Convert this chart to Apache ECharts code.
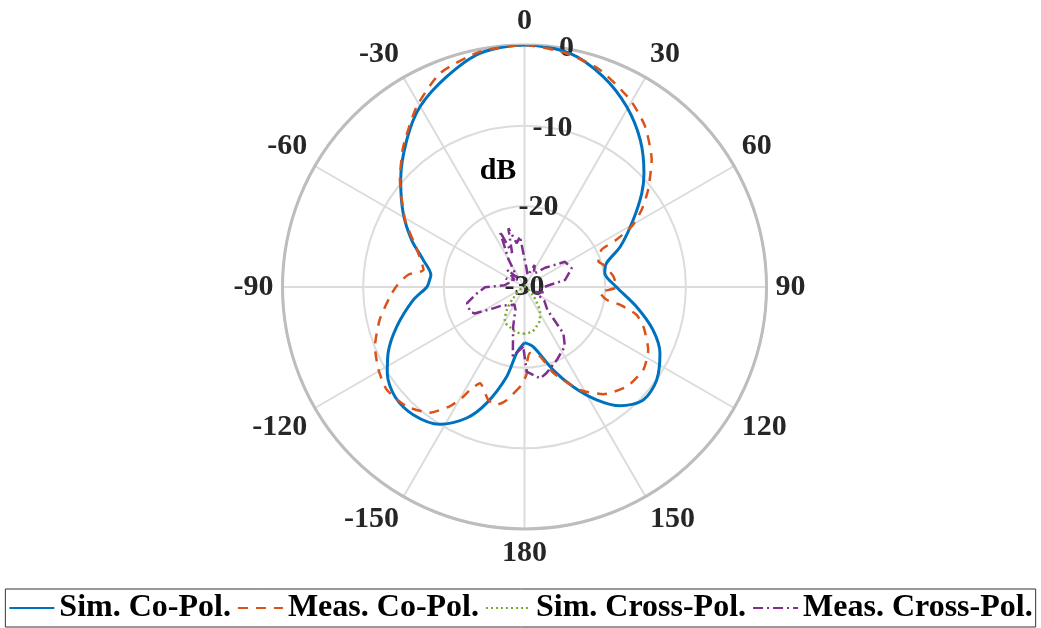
<!DOCTYPE html>
<html>
<head>
<meta charset="utf-8">
<script src="https://cdn.jsdelivr.net/npm/echarts@6/dist/echarts.min.js"></script>
<style>
  html, body { margin: 0; padding: 0; background: #fff; }
  #chart { width: 1041px; height: 628px; }
</style>
</head>
<body>
<div id="chart"></div>
<script>
// angle in degrees (0 = broadside, clockwise), gain in dB
var simCoAngle = [-180, -173.3, -168.8, -162, -156.2, -148.3, -138.9, -130.3, -122.2, -115.9, -107.3, -96.7, -90, -85.8, -82.7, -75, -67.4, -58.7, -49.2, -38.7, -30.1, -20.3, -10.8, 0, 11, 20.5, 29.5, 38.2, 46.4, 51.4, 58.4, 67.1, 73.7, 80.1, 90, 100, 108.5, 116.1, 125.1, 133.6, 141.2, 147.4, 153.9, 160.9, 171.6, 180];
var simCoDb = [-23.1, -21.8, -18.7, -14.9, -12.25, -10.0, -9.0, -8.96, -9.9, -11.2, -13.4, -16.1, -17.9, -18.2, -18.3, -17.0, -14.85, -12.4, -9.72, -6.65, -4.17, -2.2, -0.51, 0, -0.5, -2.16, -4.3, -6.8, -9.55, -11.4, -14.2, -17.1, -19.4, -19.9, -18.6, -15.9, -13.2, -11.3, -9.97, -9.67, -11.1, -13.4, -16.2, -19.1, -22.5, -23.1];

var measCoAngle = [-177.4, -171, -166.7, -162.2, -155.2, -152.1, -150.6, -148, -143, -135.4, -126.7, -119.5, -111.7, -102.7, -94, -89.3, -84, -80.3, -70.9, -60.6, -49.2, -40.8, -30.9, -21.5, -10.7, 0, 10.2, 19.2, 29.4, 36.9, 45, 51.8, 56.6, 60.5, 62.8, 64.2, 70.9, 74.2, 83.2, 90, 94.3, 98.8, 100.5, 103.9, 108.3, 110.8, 116.9, 124.8, 134.2, 143.6, 151.7, 161.5, 167.4, 175.2, 178.4, 178.5, -177.4];
var measCoDb = [-17.6, -15.8, -15.0, -15.3, -16.85, -15.55, -14.2, -12.6, -10.5, -9.2, -8.7, -9.2, -10.05, -11.6, -13.3, -14.2, -15.5, -17.3, -15.9, -13.0, -9.6, -7.0, -3.96, -1.5, -0.3, 0, -0.56, -1.5, -3.35, -5.1, -7.7, -10.5, -12.6, -14.7, -17.2, -19.4, -20.3, -19.85, -18.9, -18.6, -20.6, -19.7, -18.0, -15.7, -14.5, -14.0, -12.8, -12.05, -12.3, -13.5, -15.5, -18.8, -21.2, -21.8, -20.2, -19.3, -17.6];

var simXAngle = [-180, -170, -160, -150, -141.9, -135, -128, -90, -45, 0, 45, 90, 128, 135, 141.5, 148.7, 155, 162.9, 170, 180];
var simXDb = [-24.2, -24.3, -24.7, -25.1, -26.5, -28.0, -30, -30, -30, -30, -30, -30, -30, -28.5, -27.6, -26.3, -25.5, -24.9, -24.4, -24.2];

var measXAngle = [-178.8, -170.4, -164, -158, -150, -140, -130, -124.3, -118, -114.4, -105.7, -98, -90.4, -85, -75, -65, -55, -45, -38, -30, -23.9, -20, -15.4, -10, -5.1, 0, 5, 15, 25, 35, 47, 58, 68.4, 80.2, 85, 95, 105, 115, 125, 135, 140, 145.8, 156.2, 165.6, 170.2, 178.5, -178.8];
var measXDb = [-22.6, -21.3, -24.9, -27.0, -27.5, -27.0, -26.5, -25.3, -23.0, -22.6, -22.6, -24.0, -25.1, -27.5, -28.0, -27.5, -28.5, -27.0, -28.5, -26.0, -22.5, -25.5, -22.45, -24.5, -23.7, -26.5, -27.5, -28.5, -27.0, -28.0, -26.5, -24.1, -23.7, -24.9, -26.8, -28.0, -27.5, -28.5, -27.0, -26.0, -22.5, -21.1, -20.1, -19.0, -18.5, -19.5, -22.6];

var seriesNames = ['Sim. Co-Pol.', 'Meas. Co-Pol.', 'Sim. Cross-Pol.', 'Meas. Cross-Pol.'];
var colors = ['#0072BD', '#D95319', '#77AC30', '#7E2F8E'];

var labelFont = 'Liberation Serif';
var textColor = '#262626';

function toPolar(db, ang) {
    var out = [];
    for (var i = 0; i < db.length; i++) {
        out.push([db[i], ang[i]]);
    }
    return out;
}

var myChart = echarts.init(document.getElementById('chart'));

var option = {
    backgroundColor: '#fff',
    animation: false,
    polar: [
        { center: [524.5, 287], radius: 242 },
        { center: [524.5, 287], radius: 242 }
    ],
    angleAxis: [{
        polarIndex: 0,
        type: 'value',
        min: -180,
        max: 180,
        interval: 30,
        startAngle: 270,
        clockwise: true,
        axisLine: { lineStyle: { color: '#bdbdbd', width: 3 } },
        axisTick: { show: false },
        axisLabel: {
            margin: 9,
            fontFamily: labelFont,
            fontWeight: 'bold',
            fontSize: 30,
            color: textColor,
            formatter: function (v) { return v === -180 ? '180' : String(v); }
        },
        splitLine: { lineStyle: { color: '#dcdcdc', width: 2 } }
    }, {
        polarIndex: 1,
        type: 'value',
        min: 0,
        max: 360,
        startAngle: 80,
        show: false
    }],
    radiusAxis: [{
        polarIndex: 0,
        type: 'value',
        min: -30,
        max: 0,
        interval: 10,
        axisLine: { show: false },
        axisTick: { show: false },
        axisLabel: { show: false },
        splitLine: { lineStyle: { color: ['#dcdcdc', '#dcdcdc', '#dcdcdc', '#bdbdbd'], width: 2 } }
    }, {
        polarIndex: 1,
        type: 'value',
        min: -30,
        max: 0,
        interval: 10,
        axisLine: { show: false },
        axisTick: { show: false },
        splitLine: { show: false },
        axisLabel: {
            margin: 0,
            align: 'center',
            verticalAlign: 'middle',
            padding: [6, 0, 0, 0],
            fontFamily: labelFont,
            fontWeight: 'bold',
            fontSize: 30,
            color: textColor
        }
    }],
    legend: {
        data: seriesNames,
        bottom: 1,
        left: 'center',
        itemWidth: 45,
        itemHeight: 18,
        itemGap: 6,
        padding: [3, 3],
        borderColor: '#333',
        borderWidth: 1,
        itemStyle: { opacity: 0 },
        textStyle: {
            fontFamily: labelFont,
            fontWeight: 'bold',
            fontSize: 32,
            color: '#000'
        }
    },
    graphic: [{
        type: 'text',
        x: 498,
        y: 171,
        style: {
            text: 'dB',
            font: 'bold 30px "Liberation Serif"',
            fill: '#000',
            align: 'center',
            verticalAlign: 'middle'
        }
    }],
    series: [{
        name: seriesNames[0],
        type: 'line',
        coordinateSystem: 'polar',
        polarIndex: 0,
        symbol: 'none',
        smooth: 0.3,
        lineStyle: { color: colors[0], width: 3 },
        itemStyle: { color: colors[0] },
        data: toPolar(simCoDb, simCoAngle)
    }, {
        name: seriesNames[1],
        type: 'line',
        coordinateSystem: 'polar',
        polarIndex: 0,
        symbol: 'none',
        smooth: 0.2,
        lineStyle: { color: colors[1], width: 2.5, type: [10, 8] },
        itemStyle: { color: colors[1] },
        data: toPolar(measCoDb, measCoAngle)
    }, {
        name: seriesNames[2],
        type: 'line',
        coordinateSystem: 'polar',
        polarIndex: 0,
        symbol: 'none',
        smooth: 0.3,
        lineStyle: { color: colors[2], width: 2.5, type: [2, 3] },
        itemStyle: { color: colors[2] },
        data: toPolar(simXDb, simXAngle)
    }, {
        name: seriesNames[3],
        type: 'line',
        coordinateSystem: 'polar',
        polarIndex: 0,
        symbol: 'none',
        lineStyle: { color: colors[3], width: 2.5, type: [10, 4, 2, 4] },
        itemStyle: { color: colors[3] },
        data: toPolar(measXDb, measXAngle)
    }]
};

myChart.setOption(option);
</script>
</body>
</html>
